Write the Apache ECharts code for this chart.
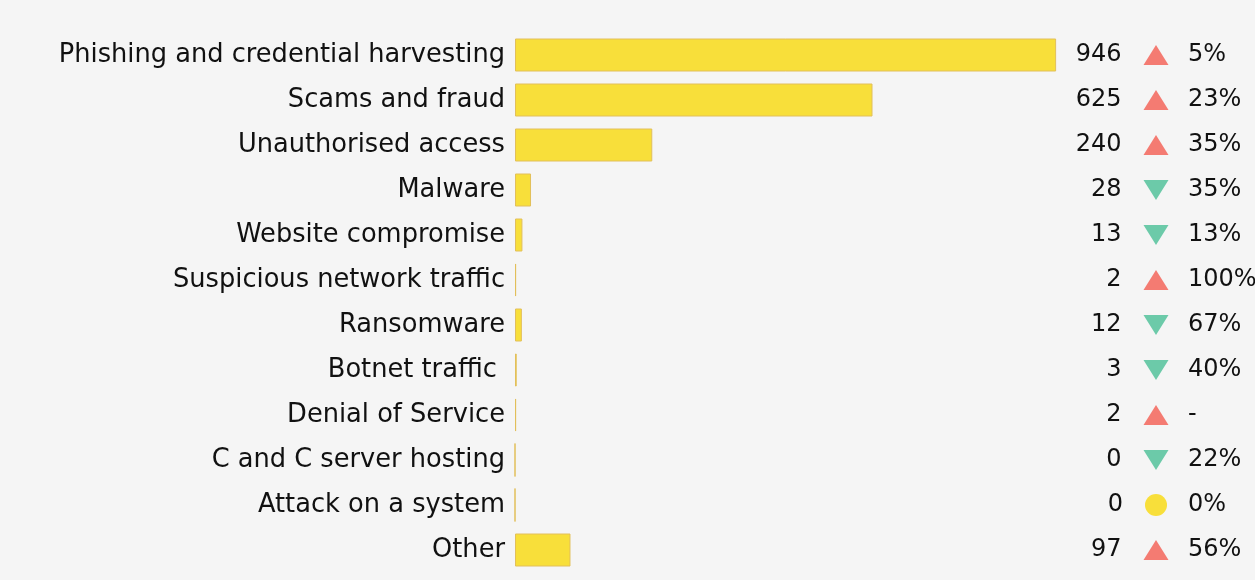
<!DOCTYPE html>
<html><head><meta charset="utf-8">
<script src="https://cdn.jsdelivr.net/npm/echarts@6/dist/echarts.min.js"></script>
<style>html,body{margin:0;padding:0;background:#f5f5f5;}#c{width:1255px;height:580px;}</style>
</head><body><div id="c"></div>
<script>
const categories = ["Phishing and credential harvesting","Scams and fraud","Unauthorised access","Malware","Website compromise","Suspicious network traffic","Ransomware","Botnet traffic ","Denial of Service","C and C server hosting","Attack on a system","Other"];
const counts = [946,625,240,28,13,2,12,3,2,0,0,97];
const changes = ["5%","23%","35%","35%","13%","100%","67%","40%","-","22%","0%","56%"];
const directions = ["up","up","up","down","down","up","down","down","up","down","flat","up"];

const FONT = "DejaVu Sans";
const FS_CAT = 25.7;
const FS = 24;
const idx = categories.map((c,i)=>i);
function pts(dir){ return idx.filter(i=>directions[i]===dir).map(i=>({value:[0.5,i], count:counts[i]})); }

const iconLabel = {show:true, position:'left', distance:22, fontFamily:FONT, fontSize:FS, color:'#111', formatter:p=>String(p.data.count)};

const chart = echarts.init(document.getElementById('c'));
chart.setOption({
  backgroundColor:'#f5f5f5',
  animation:false,
  grid:[{left:515, top:32.5, height:540, width:572},{left:1145, top:32.5, height:540, width:22}],
  xAxis:[{type:'value', min:0, max:1000, show:false, gridIndex:0},{type:'value', min:0, max:1, show:false, gridIndex:1}],
  yAxis:[{type:'category', data:categories, inverse:true, gridIndex:0, axisLine:{show:false}, axisTick:{show:false},
          axisLabel:{margin:10, fontFamily:FONT, fontSize:FS_CAT, color:'#111'}},
         {type:'category', data:idx, inverse:true, gridIndex:1, show:false}],
  series:[
    {type:'bar', data:counts, barWidth:33, xAxisIndex:0, yAxisIndex:0,
     itemStyle:{color:'#f8df3a', borderColor:'#e2bf5a', borderWidth:1}},
    {type:'scatter', xAxisIndex:1, yAxisIndex:1, symbol:'triangle', symbolSize:[25,20],
     itemStyle:{color:'#f47b72', opacity:1}, data:pts('up'), label:iconLabel},
    {type:'scatter', xAxisIndex:1, yAxisIndex:1, symbol:'triangle', symbolRotate:180, symbolSize:[25,20],
     itemStyle:{color:'#6ccaa9', opacity:1}, data:pts('down'), label:iconLabel},
    {type:'scatter', xAxisIndex:1, yAxisIndex:1, symbol:'circle', symbolSize:22,
     itemStyle:{color:'#f8df3a', opacity:1}, data:pts('flat'), label:iconLabel},
    {type:'scatter', xAxisIndex:1, yAxisIndex:1, symbol:'rect', symbolSize:22, itemStyle:{color:'rgba(0,0,0,0)', opacity:1},
     data:idx.map(i=>({value:[0.5,i], pct:changes[i]})),
     label:{show:true, position:'right', distance:21, fontFamily:FONT, fontSize:FS, color:'#111', formatter:p=>p.data.pct}}
  ]
});
</script></body></html>
